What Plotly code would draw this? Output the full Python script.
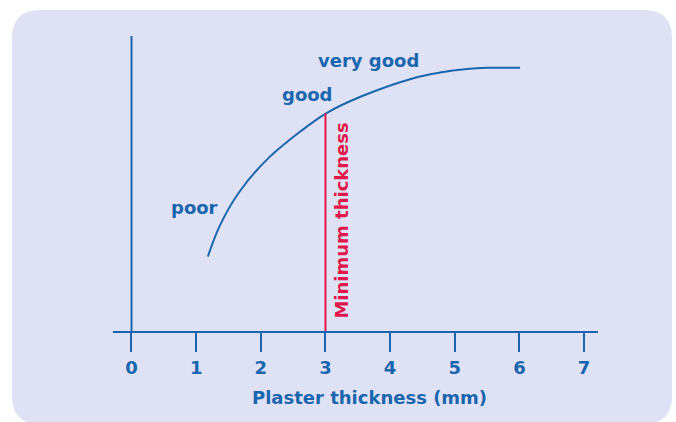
import plotly.graph_objects as go

# Data
thickness = [1.18, 1.37, 1.67, 2.09, 2.61, 3.01, 3.54, 4.36, 4.77, 5.19, 5.50, 6.01]
attraction = [2.52, 3.59, 4.72, 5.80, 6.76, 7.38, 7.94, 8.57, 8.76, 8.88, 8.92, 8.92]
min_thickness = 3.0
min_attraction = 7.38
tick_vals = [0, 1, 2, 3, 4, 5, 6, 7]
tick_text = ["0", "1", "2", "3", "4", "5", "6", "7"]
quality_labels = ["poor", "good", "very good"]
quality_x = [0.98, 2.72, 3.67]
quality_y = [4.19, 8.03, 9.16]

BLUE = "#1a66ae"
RED = "#e2184a"
BG = "#dee2f4"
FONT = "DejaVu Sans"

W, H = 676, 422
l, r, t, b = 113, 78, 36, 91
pw, ph = W - l - r, H - t - b


def px(xp):
    return (xp - l) / pw


def py(yp):
    return (H - b - yp) / ph


fig = go.Figure()
fig.add_trace(go.Scatter(
    x=thickness, y=attraction, mode="lines",
    line=dict(color=BLUE, width=2, shape="spline", smoothing=1.0),
    hoverinfo="skip", showlegend=False, cliponaxis=False,
))
fig.add_trace(go.Scatter(
    x=[min_thickness, min_thickness], y=[0, min_attraction], mode="lines",
    line=dict(color=RED, width=2), hoverinfo="skip", showlegend=False,
))

# rounded background panel
x0, x1, y0, y1, rad = 12, 672, 10, 424, 28
path = (f"M {px(x0+rad)},{py(y0)} L {px(x1-rad)},{py(y0)} "
        f"Q {px(x1)},{py(y0)} {px(x1)},{py(y0+rad)} L {px(x1)},{py(y1-rad)} "
        f"Q {px(x1)},{py(y1)} {px(x1-rad)},{py(y1)} L {px(x0+rad)},{py(y1)} "
        f"Q {px(x0)},{py(y1)} {px(x0)},{py(y1-rad)} L {px(x0)},{py(y0+rad)} "
        f"Q {px(x0)},{py(y0)} {px(x0+rad)},{py(y0)} Z")
fig.add_shape(type="path", xref="paper", yref="paper", layer="below",
              path=path, fillcolor=BG, line=dict(width=0))
# y axis line
fig.add_shape(type="line", xref="x", yref="y", x0=0, x1=0, y0=0, y1=10,
              line=dict(color=BLUE, width=2), layer="above")

for txt, xx, yy in zip(quality_labels, quality_x, quality_y):
    fig.add_annotation(x=xx, y=yy, text=txt, showarrow=False,
                       xanchor="center", yanchor="middle",
                       font=dict(family=FONT, size=18, color=BLUE, weight="bold"))

fig.add_annotation(x=3.25, y=3.73, text="Minimum thickness", textangle=-90,
                   showarrow=False, xanchor="center", yanchor="middle",
                   font=dict(family=FONT, size=18, color=RED, weight="bold"))
fig.add_annotation(x=-0.471, y=5.07, text="Magnetic attraction", textangle=-90,
                   showarrow=False, xanchor="center", yanchor="middle",
                   font=dict(family=FONT, size=18, color=BLUE, weight="bold"))
fig.add_annotation(x=3.68, xref="x", y=(331 - 397) / ph, yref="paper",
                   text="Plaster thickness (mm)", showarrow=False,
                   xanchor="center", yanchor="middle",
                   font=dict(family=FONT, size=18, color=BLUE, weight="bold"))

fig.update_layout(
    width=W, height=H,
    margin=dict(l=l, r=r, t=t, b=b),
    paper_bgcolor="white", plot_bgcolor="rgba(0,0,0,0)",
    showlegend=False,
    xaxis=dict(range=[-0.286, 7.215], showgrid=False, zeroline=False,
               showline=True, linecolor=BLUE, linewidth=2,
               ticks="outside", ticklen=19, tickwidth=2, tickcolor=BLUE,
               tickvals=tick_vals, ticktext=tick_text, ticklabelstandoff=0,
               tickfont=dict(family=FONT, size=18, color=BLUE, weight="bold"),
               fixedrange=True),
    yaxis=dict(range=[0, 10], visible=False, fixedrange=True),
)

fig.write_html("out.html", config={"displayModeBar": False},
               post_script="document.body.style.margin='0';")
